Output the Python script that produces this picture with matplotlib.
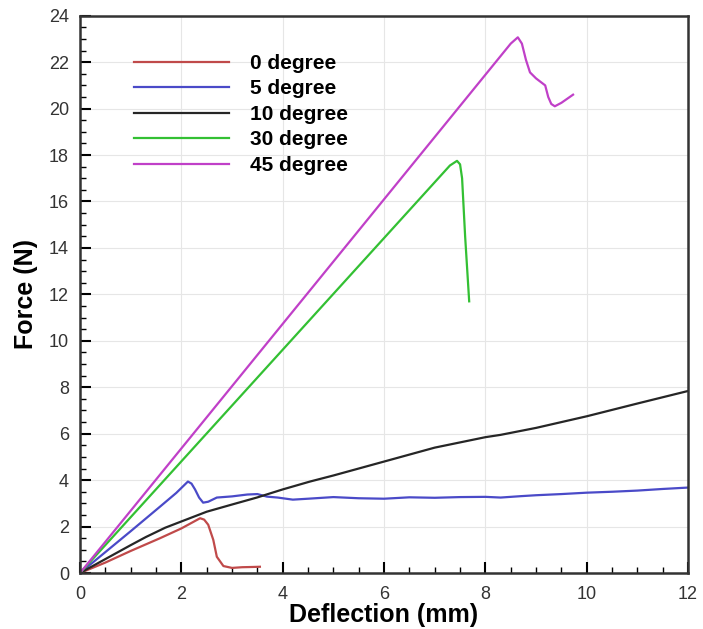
import matplotlib.pyplot as plt
from matplotlib.ticker import MultipleLocator

plt.rcParams['font.family'] = ['Liberation Sans', 'DejaVu Sans']

# data (deflection mm, force N)
x_0deg = [0.0, 0.5, 1.0, 1.58, 2.0, 2.37, 2.45, 2.53, 2.63, 2.7, 2.83, 3.0, 3.2, 3.4, 3.55]
y_0deg = [0.0, 0.45, 0.95, 1.5, 1.92, 2.36, 2.3, 2.08, 1.43, 0.7, 0.3, 0.22, 0.25, 0.26, 0.27]

x_5deg = [0.0, 0.5, 1.0, 1.58, 1.9, 2.13, 2.2, 2.27, 2.35, 2.43, 2.53, 2.7, 3.0, 3.3, 3.5,
          3.69, 3.9, 4.2, 4.5, 5.0, 5.5, 6.0, 6.5, 7.0, 7.5, 8.0, 8.3, 8.7, 9.0,
          9.5, 10.0, 10.5, 11.0, 11.5, 12.0]
y_5deg = [0.0, 0.9, 1.8, 2.86, 3.45, 3.94, 3.85, 3.6, 3.25, 3.03, 3.07, 3.25, 3.3, 3.38, 3.4,
          3.29, 3.25, 3.16, 3.2, 3.27, 3.22, 3.2, 3.26, 3.24, 3.27, 3.28, 3.25, 3.31, 3.35,
          3.4, 3.46, 3.5, 3.55, 3.62, 3.68]

x_10deg = [0.0, 0.5, 1.0, 1.3, 1.68, 2.0, 2.5, 3.0, 3.49, 4.0, 4.54, 5.0, 6.0, 7.0, 8.0,
           8.3, 9.0, 10.0, 11.0, 12.0]
y_10deg = [0.0, 0.6, 1.2, 1.55, 1.95, 2.22, 2.64, 2.95, 3.25, 3.6, 3.94, 4.2, 4.8, 5.4, 5.85,
           5.95, 6.25, 6.75, 7.3, 7.84]

x_30deg = [0.0, 7.3, 7.44, 7.5, 7.54, 7.6, 7.68]
y_30deg = [0.0, 17.55, 17.75, 17.6, 17.0, 14.5, 11.7]

x_45deg = [0.0, 8.5, 8.64, 8.72, 8.8, 8.88, 9.0, 9.18, 9.24, 9.3, 9.37, 9.5, 9.73]
y_45deg = [0.0, 22.8, 23.07, 22.8, 22.1, 21.56, 21.3, 21.0, 20.5, 20.2, 20.1, 20.25, 20.6]

labels = ['0 degree', '5 degree', '10 degree', '30 degree', '45 degree']
colors = ['#c04a4a', '#4a4ac8', '#262626', '#33c033', '#c040c8']

fig = plt.figure(figsize=(7.03, 6.29), dpi=100)
ax = fig.add_axes([0.1138, 0.089, 0.865, 0.886])

series = [(x_0deg, y_0deg), (x_5deg, y_5deg), (x_10deg, y_10deg),
          (x_30deg, y_30deg), (x_45deg, y_45deg)]
for (xs, ys), lab, c in zip(series, labels, colors):
    ax.plot(xs, ys, color=c, lw=1.6, label=lab)

ax.set_xlim(0, 12)
ax.set_ylim(0, 24)
ax.xaxis.set_major_locator(MultipleLocator(2))
ax.xaxis.set_minor_locator(MultipleLocator(0.5))
ax.yaxis.set_major_locator(MultipleLocator(2))
ax.yaxis.set_minor_locator(MultipleLocator(0.5))
ax.tick_params(which='major', direction='in', length=8, width=1.5, labelsize=13,
               labelcolor='#333333')
ax.tick_params(axis='x', which='major', pad=9)
ax.tick_params(axis='y', which='major', pad=8)
ax.tick_params(which='minor', direction='in', length=4, width=1.0)
ax.grid(True, which='major', color='#e6e6e6', lw=0.8)
ax.set_axisbelow(True)
for s in ax.spines.values():
    s.set_linewidth(1.8)
    s.set_color('#333333')

ax.set_xlabel('Deflection (mm)', fontsize=18, fontweight='bold', labelpad=0)
ax.set_ylabel('Force (N)', fontsize=18, fontweight='bold', labelpad=8)

ax.legend(loc='upper left', bbox_to_anchor=(0.072, 0.950), frameon=False,
          handlelength=4.55, handletextpad=1.0, labelspacing=0.31, borderpad=0,
          prop={'weight': 'bold', 'size': 15})

fig.savefig('out.png', dpi=100, facecolor='white')
